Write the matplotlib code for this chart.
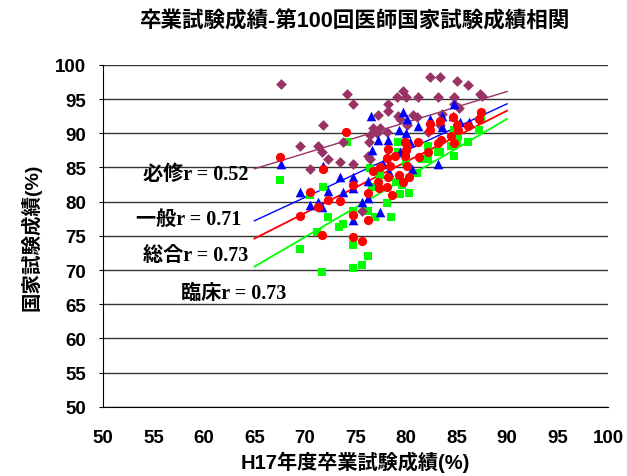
import matplotlib
matplotlib.use('Agg')
import matplotlib.pyplot as plt

plt.rcParams['font.family'] = ['Liberation Sans', 'Noto Sans CJK JP']
plt.rcParams['font.weight'] = 'bold'

# 卒業試験成績 (x) と 国家試験成績 (y)
hisshu_x = [67.6, 69.5, 70.5, 71.3, 71.7, 71.8, 72.3, 73.5, 73.8, 74.2, 74.8, 74.8, 75.6, 76.2, 76.3,
            76.4, 76.4, 76.7, 77.1, 77.2, 77.4, 78.1, 78.2, 78.2, 79.1, 79.2, 79.4, 79.7, 80.0, 80.1,
            80.7, 81.1, 81.2, 82.2, 82.4, 83.2, 83.4, 83.4, 83.6, 84.7, 84.7, 85.0, 85.2, 86.1, 87.3, 87.5]
hisshu_y = [97.2, 88.2, 84.8, 88.2, 87.3, 91.2, 86.3, 85.8, 88.7, 95.8, 94.3, 85.5, 78.7, 86.7, 88.7,
            89.8, 86.3, 90.8, 90.1, 92.7, 90.8, 90.2, 94.3, 93.3, 95.3, 92.5, 92.1, 96.2, 95.3, 91.2,
            92.7, 92.3, 95.3, 90.2, 98.2, 95.3, 98.2, 91.2, 92.8, 95.3, 94.2, 97.7, 93.7, 97.1, 95.8, 95.5]

ippan_x = [67.6, 69.5, 70.5, 71.3, 71.7, 71.8, 72.3, 73.5, 73.8, 74.8, 74.8, 74.8, 75.6, 76.2, 76.2,
           76.5, 76.6, 77.2, 77.4, 77.7, 78.2, 78.3, 79.3, 79.4, 79.7, 80.0, 80.1, 80.4, 80.6, 81.2,
           82.4, 83.2, 83.6, 83.6, 84.6, 84.7, 85.3, 86.2]
ippan_y = [85.5, 81.4, 79.5, 80.0, 79.2, 85.2, 81.6, 83.6, 81.4, 83.6, 82.0, 77.3, 80.0, 83.0, 80.6,
           92.5, 87.6, 89.0, 78.5, 85.5, 89.0, 84.4, 90.5, 87.3, 93.1, 90.1, 92.1, 88.7, 84.8, 91.1,
           92.1, 85.5, 92.5, 90.9, 92.5, 94.3, 91.7, 91.7]

sougou_x = [67.5, 69.5, 70.5, 71.3, 71.7, 71.8, 72.3, 73.5, 74.1, 74.8, 74.8, 74.8, 75.6, 76.2, 76.2,
            76.7, 77.2, 77.3, 77.4, 78.1, 78.1, 78.2, 78.2, 78.4, 78.6, 78.9, 79.3, 79.7, 79.9, 79.9,
            80.0, 80.1, 80.1, 80.3, 81.2, 81.3, 82.2, 82.4, 82.4, 83.2, 83.4, 83.5, 84.4, 84.6, 84.7,
            85.0, 85.1, 86.1, 87.2, 87.4]
sougou_y = [86.5, 77.9, 81.4, 79.2, 75.1, 84.7, 80.3, 80.1, 90.2, 82.5, 78.1, 74.8, 74.3, 77.3, 81.3,
            84.5, 82.9, 82.0, 85.1, 82.2, 86.4, 87.7, 83.6, 85.2, 81.0, 86.7, 83.9, 82.9, 88.7, 86.7,
            87.6, 88.2, 85.2, 83.6, 88.7, 86.5, 87.3, 90.4, 91.4, 88.6, 91.8, 89.0, 89.6, 92.4, 88.6,
            91.2, 90.4, 91.1, 92.1, 93.1]

rinshou_x = [67.5, 69.5, 70.5, 71.2, 71.7, 71.8, 72.3, 73.4, 73.8, 74.2, 74.8, 74.8, 74.8, 75.6, 76.2,
             76.2, 76.4, 76.6, 76.9, 77.4, 78.1, 78.5, 79.0, 79.2, 79.2, 79.4, 79.6, 80.0, 80.0, 80.3,
             81.1, 81.6, 82.2, 82.2, 83.2, 83.4, 84.4, 84.7, 84.7, 85.0, 85.1, 86.1, 87.2, 87.4]
rinshou_y = [83.2, 73.1, 81.0, 75.6, 69.7, 82.2, 77.8, 76.3, 76.8, 88.7, 78.7, 73.7, 70.3, 70.8, 78.7,
             72.1, 84.9, 82.2, 77.8, 83.9, 79.8, 77.8, 82.9, 88.7, 87.3, 81.1, 82.5, 86.5, 85.8, 81.3,
             84.2, 86.3, 88.2, 86.3, 87.3, 87.3, 88.2, 86.7, 90.4, 88.7, 89.6, 88.7, 90.5, 92.4]

# 回帰直線 (x=65 と x=90 での値)
fit_x = [65, 90]
hisshu_fit = [84.8, 96.1]
ippan_fit = [77.2, 94.3]
sougou_fit = [74.6, 93.3]
rinshou_fit = [70.5, 92.1]

labels = ['必修r = 0.52', '一般r = 0.71', '総合r = 0.73', '臨床r = 0.73']
label_pos = [(54.0, 84.1), (53.3, 77.5), (54.0, 72.2), (57.7, 66.7)]

fig = plt.figure(figsize=(6.27, 4.77), dpi=100)
ax = fig.add_axes([0.164, 0.145, 0.806, 0.717])

for yv in range(50, 101, 5):
    ax.axhline(yv, color='#333333', lw=1, zorder=1)

ax.plot(fit_x, hisshu_fit, color='#993366', lw=1, zorder=2)
ax.plot(fit_x, ippan_fit, color='#0000FF', lw=1, zorder=2)
ax.plot(fit_x, sougou_fit, color='#FF0000', lw=1.3, zorder=2)
ax.plot(fit_x, rinshou_fit, color='#00FF00', lw=1.3, zorder=2)

ax.scatter(rinshou_x, rinshou_y, marker='s', s=36, color='#00FF00', linewidths=0, zorder=3)
ax.scatter(hisshu_x, hisshu_y, marker='D', s=30, color='#993366', linewidths=0, zorder=3)
ax.scatter(ippan_x, ippan_y, marker='^', s=48, color='#0000FF', linewidths=0, zorder=3)
ax.scatter(sougou_x, sougou_y, marker='o', s=44, color='#FF0000', linewidths=0, zorder=3)

for txt, (tx, ty) in zip(labels, label_pos):
    ax.text(tx, ty, txt, fontsize=14.5, fontweight='bold', va='center', ha='left',
            family=['Liberation Serif', 'Noto Sans CJK JP'], zorder=4)

ax.set_xlim(50, 100)
ax.set_ylim(50, 100)
ax.set_xticks(range(50, 101, 5))
ax.set_yticks(range(50, 101, 5))
ax.tick_params(axis='x', length=0, pad=16, labelsize=13.5)
ax.tick_params(axis='y', length=3, pad=9, labelsize=13.5)
for lab in ax.get_xticklabels() + ax.get_yticklabels():
    lab.set_fontweight('bold')

ax.spines['top'].set_visible(False)
ax.spines['right'].set_visible(False)
ax.spines['left'].set_color('black')
ax.spines['bottom'].set_color('black')

ax.set_xlabel('H17年度卒業試験成績(%)', fontsize=14.5, fontweight='bold', labelpad=3)
ax.set_ylabel('国家試験成績(%)', fontsize=14, fontweight='bold', labelpad=10)
fig.text(0.566, 0.955, '卒業試験成績-第100回医師国家試験成績相関', fontsize=15.5,
         fontweight='bold', ha='center', va='center')

fig.savefig('out.png', dpi=100)
